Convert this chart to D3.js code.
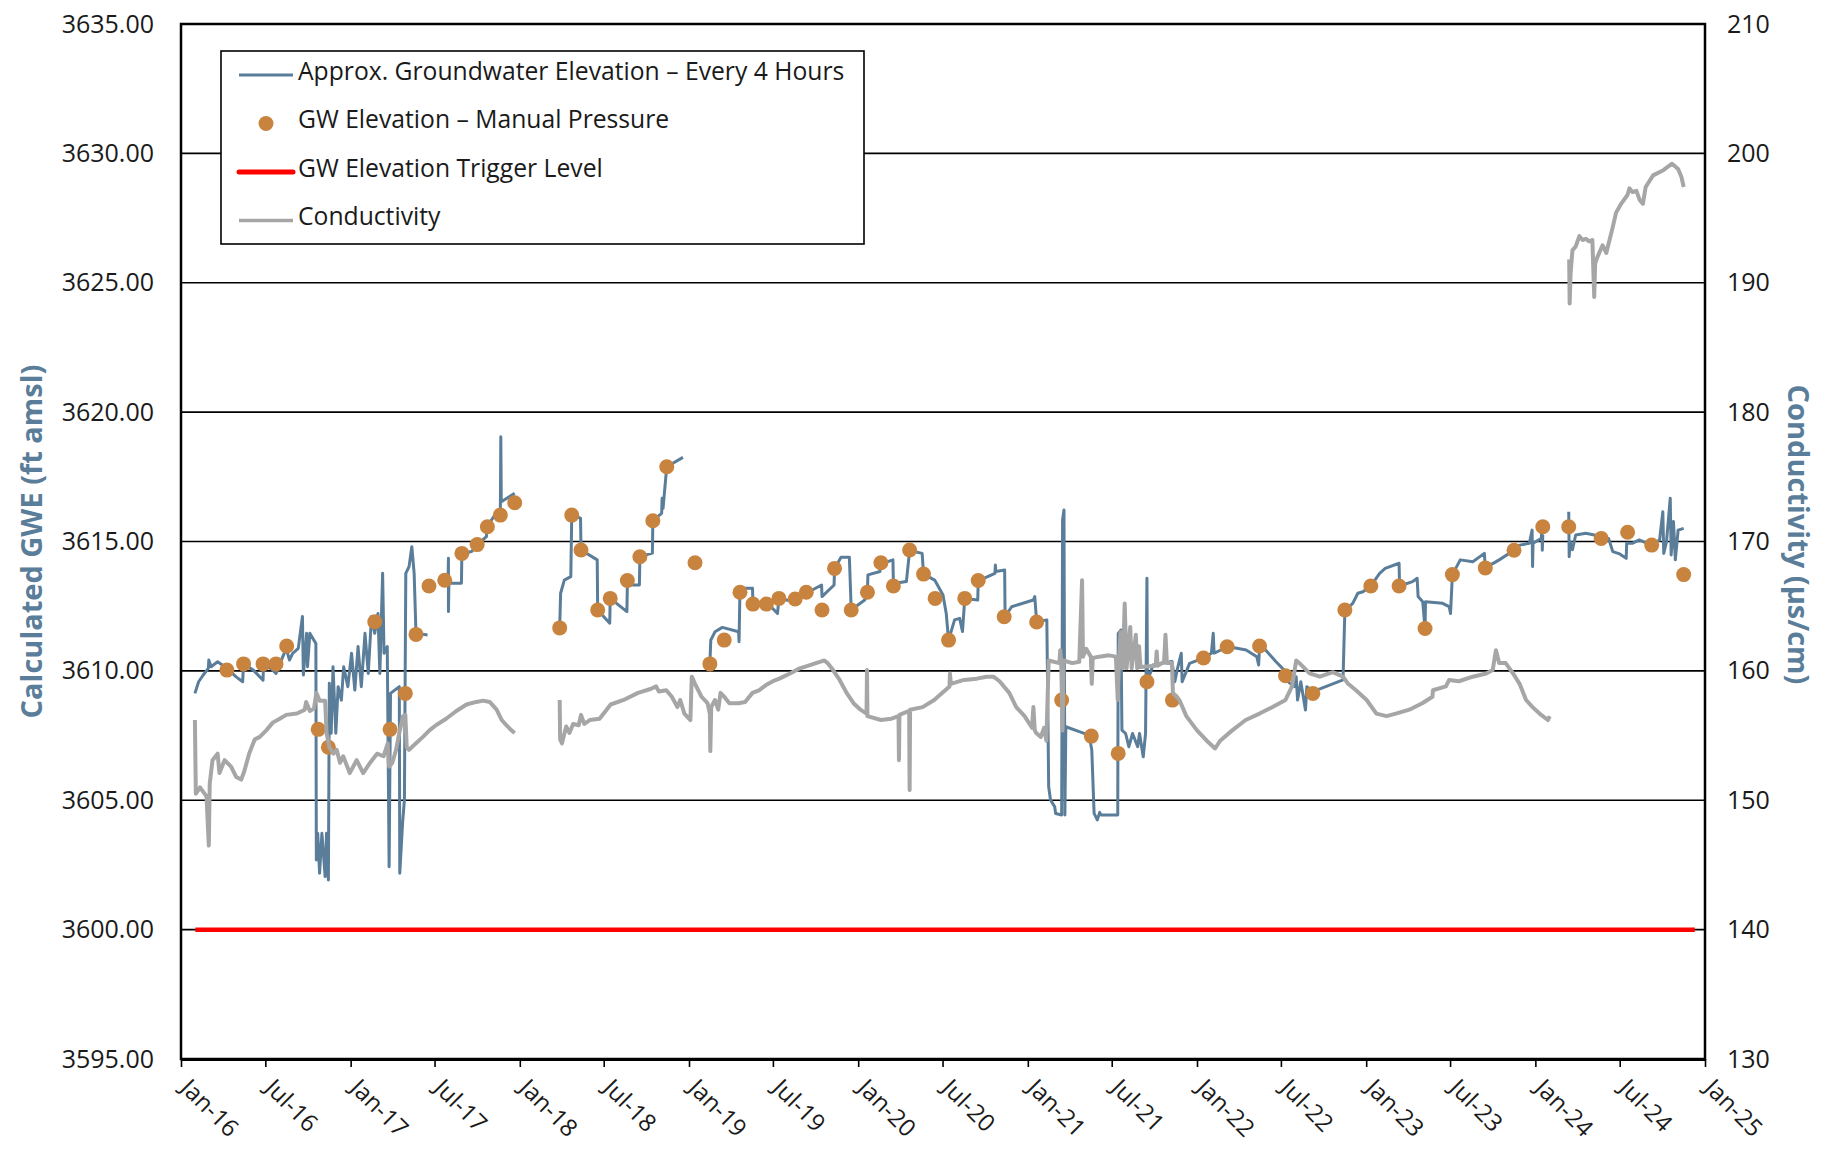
<!DOCTYPE html>
<html>
<head>
<meta charset="utf-8">
<script src="https://cdn.jsdelivr.net/npm/d3@7"></script>
<style>
  body { margin: 0; background: #fff; }
  svg text { font-family: "Open Sans", Lato, sans-serif; }
</style>
</head>
<body>
<svg id="chart" width="1830" height="1151"></svg>
<script>
// GW elevation, every 4 hours (null = gap in record)
var gweDates = [
  "2016-01-31","2016-02-08","2016-02-18","2016-02-29","2016-03-01","2016-03-06","2016-03-20","2016-04-09","2016-04-29","2016-05-13",
  "2016-05-15","2016-06-05","2016-06-26","2016-06-27","2016-07-17","2016-07-24","2016-08-01","2016-08-15","2016-08-22","2016-08-29",
  "2016-09-10","2016-09-19","2016-09-21","2016-09-28","2016-09-30","2016-10-05","2016-10-18","2016-10-19","2016-10-22","2016-10-26",
  "2016-10-31","2016-11-07","2016-11-10","2016-11-14","2016-11-16","2016-11-20","2016-11-24","2016-11-30","2016-12-05","2016-12-12",
  "2016-12-17","2016-12-26","2017-01-03","2017-01-10","2017-01-17","2017-01-24","2017-02-01","2017-02-08","2017-02-15","2017-02-22",
  "2017-03-01","2017-03-05","2017-03-11","2017-03-14","2017-03-21","2017-03-25","2017-03-28","2017-04-16","2017-04-17","2017-04-23",
  "2017-04-27","2017-04-30","2017-05-07","2017-05-13","2017-05-18","2017-05-22","2017-06-16",null,
  "2017-07-23","2017-07-30","2017-07-31","2017-07-31","2017-08-01","2017-08-28","2017-08-29","2017-09-19","2017-10-01","2017-10-21",
  "2017-10-22","2017-11-08","2017-11-20","2017-11-21","2017-11-22","2017-12-21",null,
  "2018-03-28","2018-03-30","2018-04-07","2018-04-21","2018-04-23","2018-05-12","2018-05-13","2018-06-17","2018-06-18","2018-07-14",
  "2018-07-15","2018-08-20","2018-08-21","2018-09-16","2018-09-17","2018-10-14","2018-10-15","2018-11-03","2018-11-04","2018-11-06",
  "2018-11-14","2018-12-19",null,
  "2019-02-15","2019-02-17","2019-02-26","2019-03-14","2019-04-18","2019-04-19","2019-04-21","2019-05-18","2019-05-19","2019-06-16",
  "2019-07-11","2019-07-14","2019-08-18","2019-09-11","2019-10-14","2019-10-15","2019-11-10","2019-11-11","2019-11-25","2019-12-13",
  "2019-12-17","2020-01-15","2020-01-21","2020-01-22","2020-02-17","2020-02-19","2020-03-05","2020-03-16","2020-03-17","2020-04-14",
  "2020-04-21","2020-05-18","2020-05-21","2020-06-14","2020-07-02","2020-07-09","2020-07-14","2020-07-27","2020-08-07","2020-08-13",
  "2020-08-18","2020-09-15","2020-09-16","2020-10-04","2020-10-22","2020-10-23","2020-10-24","2020-11-12","2020-11-13","2020-11-27",
  "2021-01-13","2021-01-16","2021-01-20","2021-02-11","2021-02-12","2021-02-15","2021-02-19","2021-02-28","2021-03-02","2021-03-15",
  "2021-03-17","2021-03-20","2021-03-22","2021-03-24","2021-04-22","2021-05-13","2021-05-19","2021-05-24","2021-05-31","2021-06-05",
  "2021-06-08","2021-07-14","2021-07-15","2021-07-21","2021-07-23","2021-07-31","2021-08-07","2021-08-15","2021-08-26","2021-08-30",
  "2021-09-07","2021-09-12","2021-09-15","2021-09-16","2021-09-28","2021-11-08","2021-11-14","2021-11-20","2021-11-28","2021-11-30",
  "2021-12-16","2022-01-16","2022-02-01","2022-02-05","2022-02-07","2022-03-08","2022-04-17","2022-05-10","2022-05-14","2022-05-16",
  "2022-05-29","2022-06-20","2022-07-08","2022-07-11","2022-07-30","2022-08-03","2022-08-06","2022-08-13","2022-08-23","2022-08-26",
  "2022-09-08","2022-11-12","2022-11-16","2022-12-03","2022-12-14","2022-12-25","2023-01-11","2023-01-30","2023-02-11","2023-03-13",
  "2023-03-14","2023-04-11","2023-04-21","2023-04-23","2023-05-03","2023-05-08","2023-05-09","2023-06-15","2023-06-29","2023-07-02",
  "2023-07-06","2023-07-23","2023-08-19","2023-09-13","2023-09-15","2023-10-15","2023-11-16","2023-11-28","2023-12-19","2023-12-25",
  "2023-12-26","2023-12-27","2024-01-14","2024-01-15","2024-01-16","2024-01-17",null,
  "2024-03-13","2024-03-14","2024-03-16","2024-03-21","2024-03-28","2024-04-19","2024-05-07","2024-05-22","2024-06-07","2024-06-16",
  "2024-07-01","2024-07-15","2024-07-16","2024-07-28","2024-08-12","2024-09-07","2024-09-25","2024-10-02","2024-10-04","2024-10-10",
  "2024-10-18","2024-10-20","2024-10-25","2024-10-29","2024-11-04","2024-11-16"
];
var gweValues = [
  3609.13,3609.58,3609.84,3610.10,3610.42,3610.16,3610.35,3610.10,3609.77,3609.58,
  3610.26,3610.03,3609.64,3610.26,3610.03,3609.90,3610.26,3610.87,3610.42,3610.68,
  3610.87,3612.10,3609.84,3611.45,3610.16,3611.45,3611.06,3602.69,3603.72,3602.18,
  3603.72,3602.05,3603.72,3601.92,3609.52,3607.59,3610.16,3607.59,3609.39,3608.87,
  3610.16,3609.39,3610.68,3609.26,3610.94,3609.39,3611.45,3609.90,3612.10,3611.45,
  3612.22,3609.90,3613.77,3610.68,3610.94,3602.43,3609.13,3609.39,3602.18,3604.11,
  3605.01,3613.77,3614.03,3614.80,3613.77,3611.45,3611.39,null,
  3613.45,3613.39,3614.35,3612.29,3613.39,3613.39,3614.54,3614.61,3614.88,3615.19,
  3615.57,3616.02,3616.21,3619.05,3616.54,3616.86,null,
  3611.64,3613.00,3613.51,3613.64,3616.02,3615.90,3614.67,3614.29,3612.35,3611.84,
  3612.80,3612.29,3613.32,3613.32,3614.42,3614.55,3615.81,3616.09,3616.67,3616.28,
  3617.89,3618.25,null,
  3610.27,3611.19,3611.51,3611.68,3611.51,3611.13,3613.19,3613.19,3612.58,3612.67,
  3612.22,3612.80,3612.67,3613.00,3613.32,3612.87,3613.32,3613.96,3614.39,3614.39,
  3612.35,3612.74,3613.04,3613.71,3613.84,3614.18,3614.22,3614.29,3613.38,3613.45,
  3614.65,3614.54,3613.74,3613.51,3612.93,3612.22,3611.19,3611.97,3612.03,3611.52,
  3612.80,3612.74,3613.49,3613.62,3613.77,3614.09,3613.84,3613.90,3612.09,3612.48,
  3612.74,3612.87,3611.89,3611.97,3610.42,3605.52,3605.01,3604.75,3604.49,3604.43,
  3615.83,3616.22,3604.43,3607.84,3607.65,3607.52,3606.94,3604.49,3604.24,3604.53,
  3604.43,3604.43,3611.45,3611.58,3607.71,3607.58,3607.07,3607.58,3607.07,3607.58,
  3606.68,3607.58,3613.58,3609.58,3610.23,3610.36,3609.58,3610.10,3610.68,3609.58,
  3610.29,3610.50,3610.68,3611.45,3610.68,3610.94,3610.81,3610.55,3610.23,3610.96,
  3610.81,3610.36,3610.03,3609.65,3609.39,3609.77,3608.87,3609.58,3608.49,3609.39,
  3609.20,3609.65,3612.33,3612.61,3613.00,3613.06,3613.28,3613.77,3613.96,3614.16,
  3613.28,3613.45,3613.58,3612.87,3612.67,3611.64,3612.67,3612.61,3612.48,3612.22,
  3613.72,3614.29,3614.22,3614.54,3613.98,3614.29,3614.66,3614.86,3614.93,3615.44,
  3614.03,3614.93,3615.12,3615.77,3614.66,3615.25,null,
  3616.15,3614.41,3615.00,3614.68,3615.25,3615.32,3615.25,3615.06,3615.12,3614.61,
  3614.52,3614.35,3614.93,3614.93,3615.06,3614.86,3615.06,3616.15,3614.54,3615.00,
  3616.67,3614.48,3615.77,3614.29,3615.44,3615.51
];

// GW elevation, manual pressure readings
var manualDates = [
  "2016-04-09","2016-05-15","2016-06-26","2016-07-24","2016-08-16","2016-10-23","2016-11-14","2017-02-22","2017-03-27","2017-04-29",
  "2017-05-22","2017-06-19","2017-07-23","2017-08-29","2017-10-01","2017-10-23","2017-11-20","2017-12-21","2018-03-28","2018-04-23",
  "2018-05-13","2018-06-18","2018-07-15","2018-08-21","2018-09-17","2018-10-15","2018-11-14","2019-01-14","2019-02-15","2019-03-18",
  "2019-04-21","2019-05-19","2019-06-17","2019-07-14","2019-08-18","2019-09-11","2019-10-15","2019-11-11","2019-12-17","2020-01-21",
  "2020-02-19","2020-03-17","2020-04-21","2020-05-21","2020-06-15","2020-07-14","2020-08-18","2020-09-16","2020-11-11","2021-01-20",
  "2021-03-15","2021-05-18","2021-07-15","2021-09-15","2021-11-09","2022-01-15","2022-03-07","2022-05-16","2022-07-11","2022-09-08",
  "2022-11-16","2023-01-11","2023-03-13","2023-05-08","2023-07-06","2023-09-15","2023-11-16","2024-01-17","2024-03-13","2024-05-22",
  "2024-07-18","2024-09-08","2024-11-16"
];
var manualValues = [
  3610.03,3610.27,3610.27,3610.27,3610.96,3607.74,3607.05,3611.90,3607.74,3609.13,
  3611.41,3613.28,3613.50,3614.54,3614.88,3615.57,3616.02,3616.50,3611.66,3616.02,
  3614.67,3612.35,3612.80,3613.49,3614.41,3615.80,3617.89,3614.18,3610.27,3611.19,
  3613.04,3612.58,3612.58,3612.80,3612.78,3613.04,3612.35,3613.96,3612.35,3613.04,
  3614.18,3613.28,3614.67,3613.74,3612.80,3611.19,3612.80,3613.49,3612.09,3611.89,
  3608.87,3607.48,3606.81,3609.58,3608.87,3610.50,3610.93,3610.96,3609.81,3609.13,
  3612.35,3613.28,3613.28,3611.64,3613.72,3613.98,3614.66,3615.57,3615.57,3615.12,
  3615.36,3614.86,3613.72
];

// trigger level
var triggerDates = ["2016-02-01", "2024-12-10"];
var triggerValues = [3600, 3600];

// conductivity (µs/cm), secondary axis
var condDates = [
  "2016-01-31","2016-02-02","2016-02-11","2016-02-25","2016-03-01","2016-03-03","2016-03-09","2016-03-20","2016-03-24","2016-04-04",
  "2016-04-18","2016-04-29","2016-05-10","2016-05-17","2016-05-27","2016-06-08","2016-06-19","2016-07-03","2016-07-17","2016-08-01",
  "2016-08-15","2016-09-07","2016-09-24","2016-09-27","2016-10-05","2016-10-14","2016-10-19","2016-10-26","2016-11-07","2016-11-10",
  "2016-11-16","2016-11-25","2016-12-02","2016-12-09","2016-12-16","2016-12-30","2017-01-14","2017-01-28","2017-02-12","2017-02-27",
  "2017-03-13","2017-03-22","2017-03-25","2017-04-01","2017-04-09","2017-04-16","2017-04-24","2017-04-29","2017-05-02","2017-05-07",
  "2017-05-22","2017-06-06","2017-06-20","2017-07-04","2017-07-26","2017-08-17","2017-09-08","2017-09-29","2017-10-14","2017-10-28",
  "2017-11-12","2017-11-23","2017-12-03","2017-12-14","2017-12-21",null,
  "2018-03-28","2018-03-29","2018-04-02","2018-04-11","2018-04-18","2018-04-26","2018-05-08","2018-05-13","2018-05-20","2018-06-01",
  "2018-06-22","2018-07-16","2018-08-13","2018-09-13","2018-10-10","2018-10-22","2018-10-28","2018-11-13","2018-11-25","2018-12-07",
  "2018-12-13","2018-12-22","2019-01-04","2019-01-07","2019-01-14","2019-01-28","2019-02-10","2019-02-15","2019-02-16","2019-02-18",
  "2019-02-26","2019-03-05","2019-03-10","2019-03-18","2019-03-29","2019-04-18","2019-05-02","2019-05-18","2019-06-01","2019-06-16",
  "2019-07-01","2019-07-15","2019-08-07","2019-08-28","2019-09-19","2019-10-10","2019-10-20","2019-10-27","2019-11-07","2019-11-22",
  "2019-12-07","2019-12-22","2020-01-06","2020-01-19","2020-01-20","2020-01-21","2020-02-19","2020-03-13","2020-03-28","2020-03-29",
  "2020-03-30","2020-04-20","2020-04-21","2020-04-22","2020-05-19","2020-06-13","2020-07-16","2020-07-17","2020-07-19","2020-08-16",
  "2020-09-13","2020-10-04","2020-10-19","2020-11-01","2020-11-22","2020-12-07","2020-12-25","2021-01-10","2021-01-13","2021-01-16",
  "2021-01-19","2021-01-29","2021-02-05","2021-02-10","2021-02-15","2021-03-10","2021-03-12","2021-03-14","2021-03-17","2021-03-19",
  "2021-04-07","2021-04-22","2021-04-28","2021-04-30","2021-05-07","2021-05-17","2021-05-19","2021-05-21","2021-06-04","2021-06-25",
  "2021-07-10","2021-07-14","2021-07-17","2021-07-20","2021-07-22","2021-07-25","2021-07-29","2021-08-02","2021-08-10","2021-08-13",
  "2021-08-22","2021-08-25","2021-08-29","2021-09-01","2021-10-04","2021-10-06","2021-10-08","2021-10-22","2021-10-25","2021-10-28",
  "2021-11-08","2021-11-10","2021-11-24","2021-12-09","2022-01-01","2022-01-22","2022-02-09","2022-02-20","2022-03-18","2022-04-16",
  "2022-05-16","2022-06-13","2022-07-11","2022-07-25","2022-08-03","2022-08-10","2022-09-01","2022-09-23","2022-10-21","2022-11-12",
  "2022-11-23","2022-12-10","2023-01-02","2023-01-23","2023-02-14","2023-03-06","2023-04-04","2023-05-02","2023-05-24","2023-05-25",
  "2023-06-22","2023-06-29","2023-07-20","2023-08-19","2023-09-17","2023-10-01","2023-10-08","2023-10-15","2023-10-29","2023-11-14",
  "2023-11-28","2023-12-12","2023-12-26","2024-01-10","2024-01-28","2024-02-01",null,
  "2024-03-14","2024-03-15","2024-03-17","2024-03-21","2024-03-28","2024-04-05","2024-04-12","2024-04-19","2024-04-26","2024-05-03",
  "2024-05-07","2024-05-09","2024-05-14","2024-05-25","2024-06-02","2024-06-09","2024-06-16","2024-06-23","2024-07-04","2024-07-18",
  "2024-07-22","2024-07-29","2024-08-06","2024-08-13","2024-08-20","2024-08-26","2024-09-11","2024-10-03","2024-10-22","2024-11-04",
  "2024-11-11","2024-11-16"
];
var condValues = [
  156.2,150.5,151.0,150.3,146.5,151.3,153.1,153.6,152.1,153.1,
  152.6,151.8,151.6,152.3,153.6,154.7,154.9,155.4,156.0,156.3,
  156.6,156.7,157.0,157.6,156.9,157.1,158.3,157.7,157.7,155.2,
  154.1,153.6,153.9,152.9,153.4,152.1,153.1,152.1,152.9,153.6,
  153.4,154.4,152.6,152.9,153.9,155.2,156.5,156.6,154.1,153.9,
  154.4,154.9,155.4,155.8,156.3,156.9,157.4,157.6,157.7,157.6,
  157.0,156.2,155.8,155.4,155.2,null,
  157.75,154.7,154.4,155.7,155.2,155.9,155.8,156.6,155.9,156.2,
  156.3,157.4,157.75,158.3,158.6,158.8,158.4,158.5,158.0,157.2,
  157.75,156.7,156.2,159.55,159.0,158.0,157.5,156.7,153.8,157.2,
  157.75,157.0,158.3,158.0,157.5,157.5,157.6,158.3,158.5,158.9,
  159.2,159.4,159.8,160.2,160.45,160.7,160.8,160.6,160.1,159.3,
  158.3,157.5,157.0,156.7,160.07,156.5,156.2,156.3,156.5,153.1,
  156.6,156.9,150.8,157.0,157.2,157.75,158.8,159.8,159.0,159.3,
  159.4,159.55,159.55,159.2,158.3,157.2,156.5,155.6,157.2,155.4,
  155.2,154.9,155.6,154.6,160.8,160.6,161.6,160.7,155.4,160.8,
  160.6,160.7,167.0,161.1,161.7,161.1,159.0,161.0,161.1,161.2,
  161.1,157.75,161.0,163.0,160.3,160.2,165.2,160.2,163.4,160.2,
  162.8,160.2,161.9,160.3,160.4,161.5,160.4,160.7,162.8,160.6,
  160.6,158.3,157.75,156.5,155.4,154.6,154.0,154.6,155.4,156.2,
  156.7,157.2,157.75,158.8,160.8,160.6,159.8,159.55,159.9,159.55,
  159.0,158.5,157.75,156.7,156.5,156.7,157.0,157.5,158.0,158.5,
  158.8,159.3,159.2,159.55,159.8,160.07,161.6,160.6,160.6,159.8,
  159.0,157.75,157.2,156.7,156.2,156.5,null,
  191.8,188.4,190.7,192.5,192.8,193.6,193.3,193.4,193.2,193.3,
  188.9,191.5,192.0,192.9,192.3,193.3,194.3,195.4,196.1,196.8,
  197.3,197.0,197.1,196.4,196.1,197.4,198.3,198.7,199.2,198.8,
  198.2,197.4
];

var gweTicks = [3595, 3600, 3605, 3610, 3615, 3620, 3625, 3630, 3635];
var condTicks = [130, 140, 150, 160, 170, 180, 190, 200, 210];
var monthTicks = ["2016-01-01","2016-07-01","2017-01-01","2017-07-01","2018-01-01","2018-07-01","2019-01-01","2019-07-01",
  "2020-01-01","2020-07-01","2021-01-01","2021-07-01","2022-01-01","2022-07-01","2023-01-01","2023-07-01","2024-01-01",
  "2024-07-01","2025-01-01"];

var legendLabels = ["Approx. Groundwater Elevation \u2013 Every 4 Hours", "GW Elevation \u2013 Manual Pressure",
  "GW Elevation Trigger Level", "Conductivity"];

var parse = d3.timeParse("%Y-%m-%d");

function toPoints(dates, values) {
  return dates.map(function(d, i) {
    return { date: d ? parse(d) : null, value: values[i] };
  });
}

var blue = "#5a7d9a", orange = "#c8843f", grey = "#a6a6a6", red = "#ff0000", ink = "#1a1a1a";

var plotLeft = 181, plotRight = 1705, plotTop = 24, plotBottom = 1059;

var svg = d3.select("#chart");

var x = d3.scaleTime()
  .domain([parse("2016-01-01"), parse("2025-01-01")])
  .range([plotLeft, plotRight]);
var yL = d3.scaleLinear().domain([3595, 3635]).range([plotBottom, plotTop]);
var yR = d3.scaleLinear().domain([130, 210]).range([plotBottom, plotTop]);

// grid lines
svg.append("g")
  .selectAll("line")
  .data(gweTicks.slice(1, -1))
  .enter().append("line")
  .attr("x1", plotLeft).attr("x2", plotRight)
  .attr("y1", d => yL(d)).attr("y2", d => yL(d))
  .attr("stroke", "#000")
  .attr("stroke-width", 1.6);

// left axis labels
var axL = svg.append("g")
  .attr("transform", "translate(" + plotLeft + ",0)")
  .call(d3.axisLeft(yL).tickValues(gweTicks).tickFormat(d3.format(".2f")).tickSize(0).tickPadding(27));
axL.select(".domain").remove();
axL.selectAll("text").attr("font-size", 25).attr("fill", ink).style("font-family", "'Open Sans'");

// right axis labels
var axR = svg.append("g")
  .attr("transform", "translate(" + plotRight + ",0)")
  .call(d3.axisRight(yR).tickValues(condTicks).tickSize(0).tickPadding(22));
axR.select(".domain").remove();
axR.selectAll("text").attr("font-size", 25).attr("fill", ink).style("font-family", "'Open Sans'");

// bottom axis
var axB = svg.append("g")
  .attr("transform", "translate(0," + plotBottom + ")")
  .call(d3.axisBottom(x)
    .tickValues(monthTicks.map(parse))
    .tickFormat(d3.timeFormat("%b-%y"))
    .tickSize(8)
    .tickSizeOuter(0));
axB.select(".domain").attr("stroke-width", 3);
axB.selectAll(".tick line").attr("stroke", "#000").attr("stroke-width", 1.6);
axB.selectAll("text")
  .attr("x", 0).attr("y", 0).attr("dy", "0.72em")
  .attr("text-anchor", "start")
  .attr("transform", "translate(10,18) rotate(45)")
  .attr("font-size", 24).attr("fill", ink).style("font-family", "'Open Sans'");

// frame
svg.append("rect")
  .attr("x", plotLeft).attr("y", plotTop)
  .attr("width", plotRight - plotLeft).attr("height", plotBottom - plotTop)
  .attr("fill", "none").attr("stroke", "#000").attr("stroke-width", 2.5);

var lineL = d3.line()
  .defined(d => d.value != null)
  .x(d => x(d.date))
  .y(d => yL(d.value));

var lineR = d3.line()
  .defined(d => d.value != null)
  .x(d => x(d.date))
  .y(d => yR(d.value));

svg.append("path")
  .datum(toPoints(gweDates, gweValues))
  .attr("d", lineL)
  .attr("fill", "none").attr("stroke", blue)
  .attr("stroke-width", 3).attr("stroke-linejoin", "round");

svg.append("g")
  .selectAll("circle")
  .data(toPoints(manualDates, manualValues))
  .enter().append("circle")
  .attr("cx", d => x(d.date)).attr("cy", d => yL(d.value))
  .attr("r", 7.5).attr("fill", orange);

svg.append("path")
  .datum(toPoints(triggerDates, triggerValues))
  .attr("d", lineL)
  .attr("fill", "none").attr("stroke", red).attr("stroke-width", 4.5);

// conductivity drawn last: secondary-axis series sits on top
svg.append("path")
  .datum(toPoints(condDates, condValues))
  .attr("d", lineR)
  .attr("fill", "none").attr("stroke", grey)
  .attr("stroke-width", 4).attr("stroke-linejoin", "round");

// legend
var legend = svg.append("g");
legend.append("rect")
  .attr("x", 221).attr("y", 51).attr("width", 643).attr("height", 193)
  .attr("fill", "#fff").attr("stroke", "#000").attr("stroke-width", 1.6);

var rows = legend.selectAll(".key")
  .data(legendLabels)
  .enter().append("g")
  .attr("class", "key")
  .attr("transform", (d, i) => "translate(0," + (75 + i * 48.5) + ")");

rows.append("text")
  .attr("x", 298).attr("dy", "0.2em")
  .attr("font-size", 24.7).attr("fill", ink)
  .text(d => d);

rows.filter((d, i) => i !== 1).append("line")
  .attr("x1", 239).attr("x2", 293)
  .attr("stroke", (d, i) => [blue, red, grey][i])
  .attr("stroke-width", (d, i) => [2.8, 5, 3.5][i])
  .attr("stroke-linecap", (d, i) => i === 1 ? "round" : "butt");

rows.filter((d, i) => i === 1).append("circle")
  .attr("cx", 266).attr("r", 7.5).attr("fill", orange);

// axis titles
svg.append("text")
  .attr("transform", "translate(42," + ((plotTop + plotBottom) / 2) + ") rotate(-90)")
  .attr("text-anchor", "middle")
  .attr("font-size", 29).attr("font-weight", "bold").attr("fill", blue)
  .text("Calculated GWE (ft amsl)");

svg.append("text")
  .attr("transform", "translate(1788," + ((plotTop + plotBottom) / 2 - 7) + ") rotate(90)")
  .attr("text-anchor", "middle")
  .attr("font-size", 29).attr("font-weight", "bold").attr("fill", blue)
  .text("Conductivity (\u00b5s/cm)");
</script>
</body>
</html>
